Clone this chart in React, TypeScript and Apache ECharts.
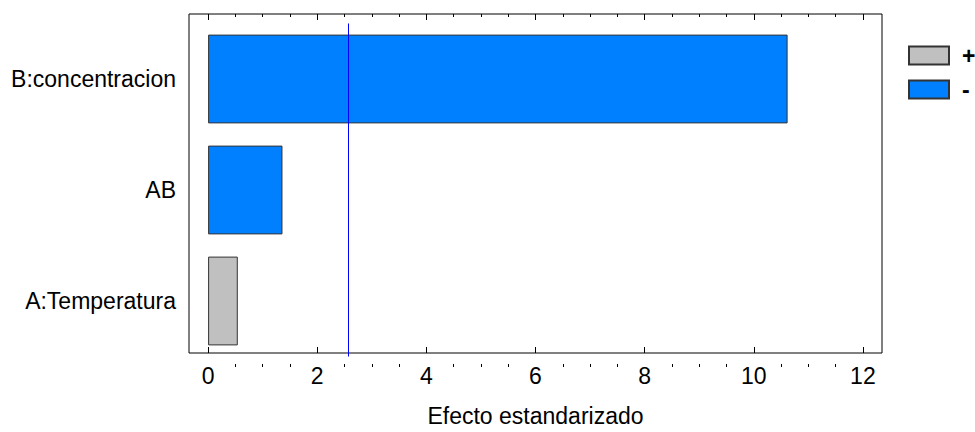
import React, { useEffect, useRef } from "react";
import * as echarts from "echarts";

const categories = ["A:Temperatura", "AB", "B:concentracion"];
const plusValues: (number | string)[] = [0.544, "-", "-"];
const minusValues: (number | string)[] = ["-", 1.363, 10.62];
const criticalValue = 2.571;
const majorTicks = [0, 2, 4, 6, 8, 10, 12];
const minorTicks = [0.5, 1, 1.5, 2.5, 3, 3.5, 4.5, 5, 5.5, 6.5, 7, 7.5, 8.5, 9, 9.5, 10.5, 11, 11.5];
const xMin = -0.35;
const xMax = 12.35;

const FONT = "'Liberation Sans', Arial, sans-serif";

export default function App() {
  const ref = useRef<HTMLDivElement>(null);
  useEffect(() => {
    if (!ref.current) return;
    const chart = echarts.init(ref.current, null, { renderer: "svg" });
    const tickLine = { color: "#000", width: 1 };
    chart.setOption({
      animation: false,
      backgroundColor: "#fff",
      textStyle: { fontFamily: FONT, color: "#000" },
      legend: {
        orient: "vertical",
        left: 908,
        top: 44,
        padding: 0,
        itemWidth: 40,
        itemHeight: 18,
        itemGap: 11,
        icon: "rect",
        textStyle: { fontSize: 23, lineHeight: 18, color: "#000", fontFamily: FONT, fontWeight: "bold", padding: [0, 0, 0, 8] },
        data: ["+", "-"],
      },
      grid: [
        { left: 189, right: 93, top: 14, bottom: 65, show: true, borderColor: "#000", borderWidth: 1, containLabel: false },
        { left: 189, right: 93, top: 23.5, bottom: 75.5, containLabel: false },
      ],
      xAxis: [
        {
          gridIndex: 0,
          type: "value",
          position: "bottom",
          min: xMin,
          max: xMax,
          axisLine: { show: false },
          splitLine: { show: false },
          axisTick: { show: true, inside: true, length: 6, lineStyle: tickLine, customValues: majorTicks },
          axisLabel: { show: true, fontSize: 23, color: "#000", margin: 11, fontFamily: FONT, customValues: majorTicks },
          name: "Efecto estandarizado",
          nameLocation: "middle",
          nameGap: 51,
          nameTextStyle: { fontSize: 23, color: "#000", fontFamily: FONT },
        },
        {
          gridIndex: 0,
          type: "value",
          position: "top",
          min: xMin,
          max: xMax,
          axisLine: { show: false },
          splitLine: { show: false },
          axisTick: { show: true, inside: true, length: 6, lineStyle: tickLine, customValues: majorTicks },
          axisLabel: { show: false },
        },
        {
          gridIndex: 1,
          type: "value",
          position: "bottom",
          offset: 10.5,
          min: xMin,
          max: xMax,
          axisLine: { show: false },
          splitLine: { show: false },
          axisTick: { show: true, inside: true, length: 3, lineStyle: tickLine, customValues: minorTicks },
          axisLabel: { show: false },
        },
        {
          gridIndex: 1,
          type: "value",
          position: "top",
          offset: 9.5,
          min: xMin,
          max: xMax,
          axisLine: { show: false },
          splitLine: { show: false },
          axisTick: { show: true, inside: true, length: 3, lineStyle: tickLine, customValues: minorTicks },
          axisLabel: { show: false },
        },
      ],
      yAxis: [
        { gridIndex: 0, type: "value", show: false, min: 0, max: 1 },
        {
          gridIndex: 1,
          type: "category",
          data: categories,
          axisLine: { show: false },
          axisTick: { show: false },
          splitLine: { show: false },
          axisLabel: { fontSize: 23, color: "#000", margin: 13, fontFamily: FONT },
        },
      ],
      series: [
        {
          name: "+",
          type: "bar",
          xAxisIndex: 2,
          yAxisIndex: 1,
          barWidth: "80%",
          barGap: "-100%",
          data: plusValues,
          itemStyle: { color: "#C0C0C0", borderColor: "#333", borderWidth: 1 },
        },
        {
          name: "-",
          type: "bar",
          xAxisIndex: 2,
          yAxisIndex: 1,
          barWidth: "80%",
          barGap: "-100%",
          data: minusValues,
          itemStyle: { color: "#0080FF", borderColor: "#333", borderWidth: 1 },
          markLine: {
            silent: true,
            symbol: "none",
            label: { show: false },
            lineStyle: { color: "#0000FF", width: 1, type: "solid" },
            data: [{ xAxis: criticalValue }],
          },
        },
      ],
    });
    return () => chart.dispose();
  }, []);
  return <div ref={ref} style={{ position: "fixed", left: 0, top: 0, width: 975, height: 432 }} />;
}
